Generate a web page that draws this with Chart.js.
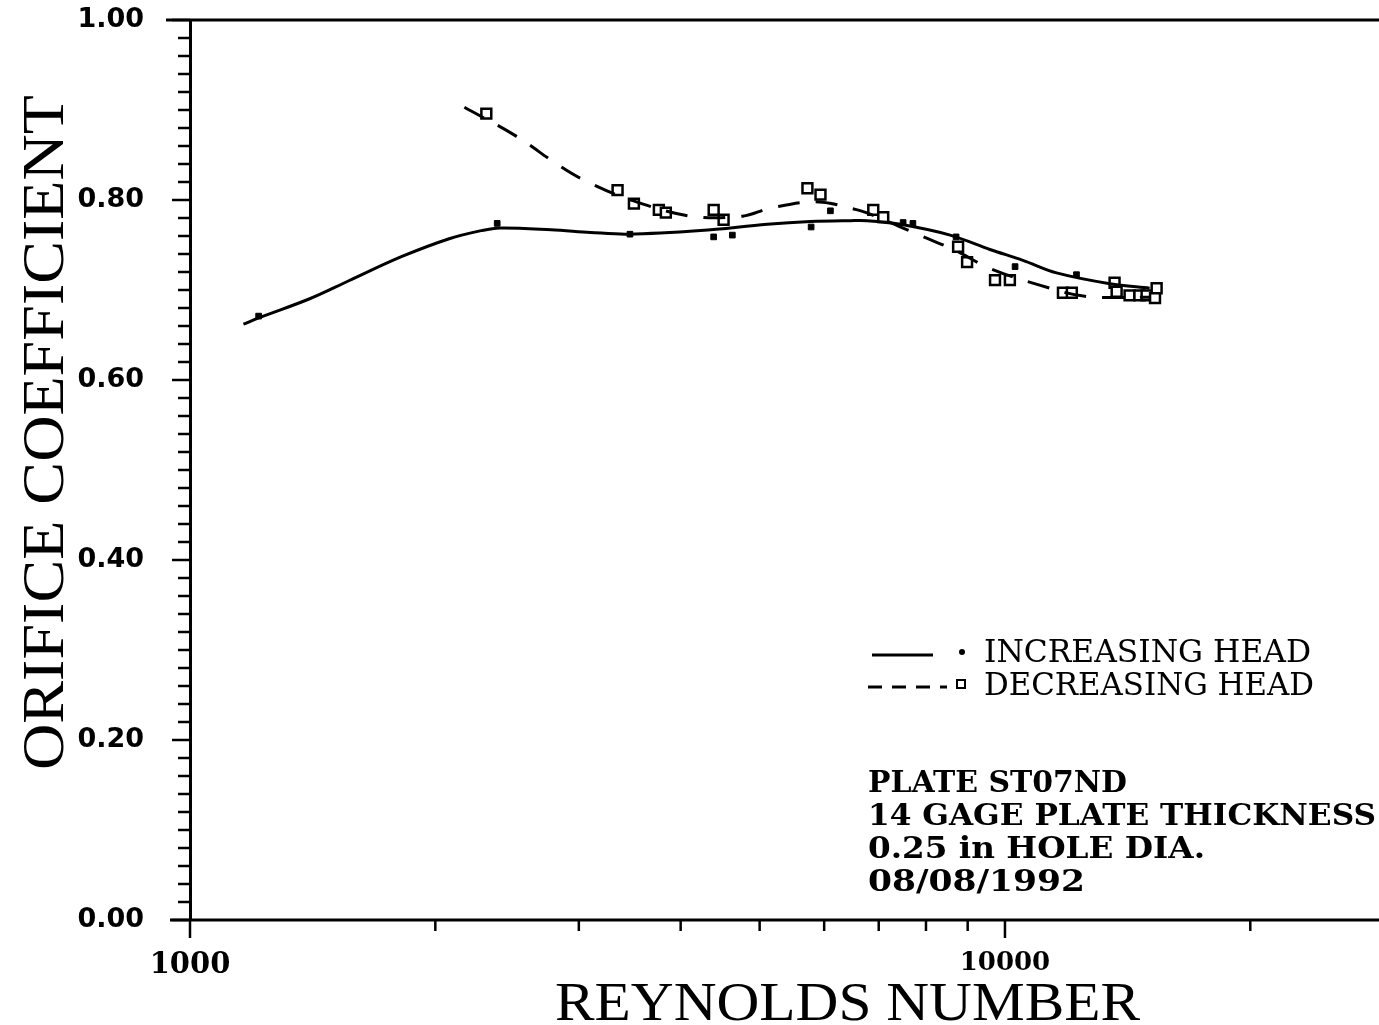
<!DOCTYPE html>
<html>
<head>
<meta charset="utf-8">
<script src="https://cdn.jsdelivr.net/npm/chart.js@4/dist/chart.umd.min.js"></script>
<style>
  html, body { margin: 0; padding: 0; background: #fff; overflow: hidden; }
  #wrap { width: 1379px; height: 1025px; }
</style>
</head>
<body>
<div id="wrap"><canvas id="c" width="1379" height="1025"></canvas></div>
<script>
// fitted curve, increasing head (solid)
var incLineRe = [1163, 1214, 1400, 1564, 1817, 2080, 2278, 2400, 2773, 3100, 3443, 4233, 5108, 5770, 6462, 6772, 7438, 8564, 9585, 10520, 11570, 13450, 15050];
var incLineCd = [0.662, 0.669, 0.690, 0.710, 0.737, 0.757, 0.766, 0.769, 0.767, 0.764, 0.762, 0.766, 0.773, 0.776, 0.777, 0.777, 0.773, 0.761, 0.745, 0.733, 0.719, 0.707, 0.702];
// measured points, increasing head
var incPtRe = [1214, 2382, 3466, 4391, 4629, 5783, 6107, 7500, 7710, 8710, 10290, 12240];
var incPtCd = [0.671, 0.774, 0.762, 0.759, 0.761, 0.770, 0.788, 0.775, 0.774, 0.759, 0.726, 0.717];
// fitted curve, decreasing head (dashed)
var decLineRe = [2171, 2513, 2829, 3045, 3475, 4116, 4765, 5157, 5850, 6590, 7020, 7850, 8690, 9585, 10975, 12530, 15050];
var decLineCd = [0.903, 0.871, 0.839, 0.822, 0.800, 0.782, 0.782, 0.791, 0.798, 0.789, 0.780, 0.761, 0.744, 0.724, 0.706, 0.693, 0.692];
// measured points, decreasing head
var decPtRe = [2310, 3347, 3505, 3761, 3836, 4391, 4516, 5723, 5938, 6893, 7090, 8760, 8985, 9723, 10140, 11780, 12080, 13630, 13710, 14220, 14620, 14920, 15350, 15280];
var decPtCd = [0.896, 0.811, 0.796, 0.789, 0.786, 0.789, 0.778, 0.813, 0.806, 0.789, 0.781, 0.748, 0.731, 0.711, 0.711, 0.697, 0.697, 0.708, 0.698, 0.694, 0.694, 0.694, 0.702, 0.691];

var xTicks = [1000, 2000, 3000, 4000, 5000, 6000, 7000, 8000, 9000, 10000, 20000];
var xLabels = { 1000: "1000", 10000: "10000" };
var yMajor = [0, 0.2, 0.4, 0.6, 0.8, 1.0];
var legendText = ["INCREASING HEAD", "DECREASING HEAD"];
var noteText = ["PLATE ST07ND", "14 GAGE PLATE THICKNESS", "0.25 in HOLE DIA.", "08/08/1992"];

function pts(xs, ys) {
  return xs.map(function(x, i) { return { x: x, y: ys[i] }; });
}

// draw text squeezed/stretched to a given width
function fitText(ctx, txt, x, y, font, w, rot) {
  ctx.save();
  ctx.font = font;
  var m = ctx.measureText(txt).width;
  ctx.translate(x, y);
  if (rot) ctx.rotate(rot);
  ctx.scale(w / m, 1);
  ctx.textAlign = "left";
  ctx.textBaseline = "alphabetic";
  ctx.fillStyle = "#000";
  ctx.fillText(txt, 0, 0);
  ctx.restore();
}

var decor = {
  id: "decor",
  afterDraw: function(chart) {
    var ctx = chart.ctx, xs = chart.scales.x, ys = chart.scales.y, a = chart.chartArea;
    var W = chart.width;
    ctx.save();
    ctx.strokeStyle = "#000";
    ctx.lineCap = "butt";
    // frame lines, run out to the page edge
    ctx.lineWidth = 3;
    ctx.beginPath(); ctx.moveTo(166, a.top); ctx.lineTo(W, a.top); ctx.stroke();
    ctx.beginPath(); ctx.moveTo(170, a.bottom); ctx.lineTo(W, a.bottom); ctx.stroke();
    // y ticks every 0.02
    ctx.lineWidth = 2.5;
    for (var i = 0; i <= 50; i++) {
      var v = i / 50, py = ys.getPixelForValue(v);
      var len = (i % 10 === 0) ? 18 : 12;
      ctx.beginPath(); ctx.moveTo(a.left, py); ctx.lineTo(a.left - len, py); ctx.stroke();
    }
    // x ticks
    xTicks.forEach(function(t) {
      var px = xs.getPixelForValue(t);
      var len = xLabels[t] ? 18 : 11;
      ctx.beginPath(); ctx.moveTo(px, a.bottom); ctx.lineTo(px, a.bottom + len); ctx.stroke();
    });
    // axis titles
    fitText(ctx, "ORIFICE COEFFICIENT", 63, 770, "60px 'Liberation Serif'", 675, -Math.PI / 2);
    fitText(ctx, "REYNOLDS NUMBER", 555, 1020, "54px 'Liberation Serif'", 585);
    // legend
    ctx.lineWidth = 3;
    ctx.beginPath(); ctx.moveTo(872, 655); ctx.lineTo(933, 655); ctx.stroke();
    ctx.fillStyle = "#000";
    ctx.beginPath(); ctx.arc(962, 652, 3, 0, Math.PI * 2); ctx.fill();
    ctx.setLineDash([14, 10]);
    ctx.beginPath(); ctx.moveTo(868, 687); ctx.lineTo(947, 687); ctx.stroke();
    ctx.setLineDash([]);
    ctx.lineWidth = 2;
    ctx.strokeRect(957, 680, 8, 8);
    fitText(ctx, legendText[0], 984, 662, "32px 'DejaVu Serif'", 327);
    fitText(ctx, legendText[1], 984, 695, "32px 'DejaVu Serif'", 330);
    // plate notes
    var nw = [259, 508, 337, 217], nb = [792, 825, 858, 891];
    noteText.forEach(function(t, k) {
      fitText(ctx, t, 868, nb[k], "bold 30px 'DejaVu Serif'", nw[k]);
    });
    ctx.restore();
  }
};

new Chart(document.getElementById("c"), {
  type: "scatter",
  data: {
    datasets: [
      { data: pts(incLineRe, incLineCd), showLine: true, borderColor: "#000", borderWidth: 3,
        pointRadius: 0, tension: 0.35, fill: false },
      { data: pts(decLineRe, decLineCd), showLine: true, borderColor: "#000", borderWidth: 3,
        borderDash: [22, 16], pointRadius: 0, tension: 0.35, fill: false },
      { data: pts(incPtRe, incPtCd), pointStyle: "rect", pointRadius: 4,
        backgroundColor: "#000", borderColor: "#000", borderWidth: 1 },
      { data: pts(decPtRe, decPtCd), pointStyle: "rect", pointRadius: 7,
        backgroundColor: "#fff", borderColor: "#000", borderWidth: 2.5 }
    ]
  },
  options: {
    responsive: false,
    animation: false,
    layout: { padding: { top: 20, right: 0, left: 0, bottom: 0 } },
    plugins: { legend: { display: false }, tooltip: { enabled: false } },
    scales: {
      x: {
        type: "logarithmic", min: 1000, max: 28010,
        afterBuildTicks: function(s) { s.ticks = xTicks.map(function(v) { return { value: v }; }); },
        afterFit: function(s) { s.height = 105; s.paddingLeft = 0; s.paddingRight = 0; },
        grid: { display: false, drawTicks: false, tickLength: 0 },
        border: { display: false },
        ticks: {
          autoSkip: false, maxRotation: 0, padding: 28, color: "#000",
          font: function(c) {
            var big = c.tick && c.tick.value === 1000;
            return { family: "'DejaVu Serif'", size: big ? 29 : 26, weight: "bold" };
          },
          callback: function(v) { return xLabels[v] || ""; }
        }
      },
      y: {
        min: 0, max: 1,
        afterBuildTicks: function(s) { s.ticks = yMajor.map(function(v) { return { value: v }; }); },
        afterFit: function(s) { s.width = 190; s.paddingTop = 0; s.paddingBottom = 0; },
        grid: { display: false, drawTicks: false, tickLength: 0 },
        border: { display: true, color: "#000", width: 3 },
        ticks: {
          autoSkip: false, padding: 46, color: "#000",
          font: { family: "'DejaVu Sans'", size: 27, weight: "bold" },
          callback: function(v) { return v.toFixed(2); }
        }
      }
    }
  },
  plugins: [decor]
});
</script>
</body>
</html>
